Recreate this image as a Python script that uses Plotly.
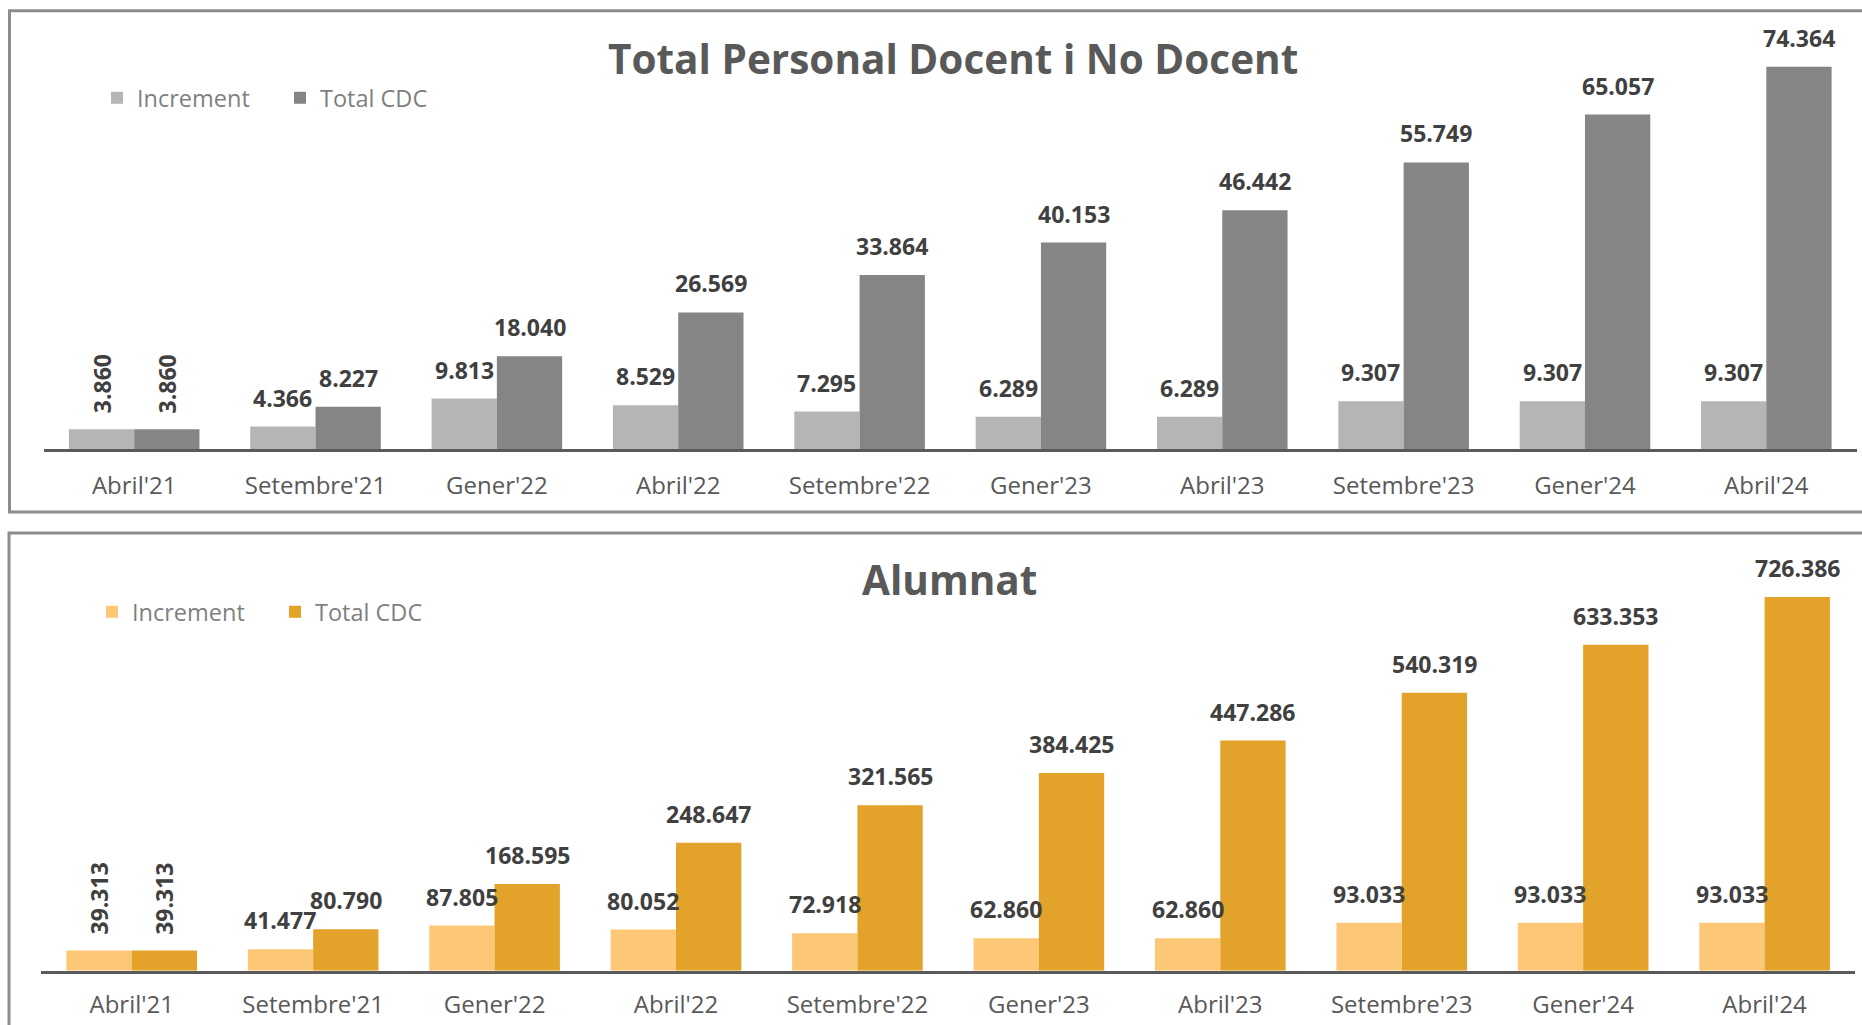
import plotly.graph_objects as go

# ---- data -------------------------------------------------------------
periodes = ["Abril'21", "Setembre'21", "Gener'22", "Abril'22", "Setembre'22",
            "Gener'23", "Abril'23", "Setembre'23", "Gener'24", "Abril'24"]

personal_increment = [3860, 4366, 9813, 8529, 7295, 6289, 6289, 9307, 9307, 9307]
personal_total = [3860, 8227, 18040, 26569, 33864, 40153, 46442, 55749, 65057, 74364]

alumnat_increment = [39313, 41477, 87805, 80052, 72918, 62860, 62860, 93033, 93033, 93033]
alumnat_total = [39313, 80790, 168595, 248647, 321565, 384425, 447286, 540319, 633353, 726386]

serie_noms = ["Increment", "Total CDC"]
titols = ["Total Personal Docent i No Docent", "Alumnat"]

# ---- page geometry (pixels) -------------------------------------------
W, H = 1862, 1025
FONT = "Open Sans"
BARGAP = 0.28


def px_x(x):
    return x / W


def px_y(y):
    return 1 - y / H


def catala(v):
    return f"{v:,}".replace(",", ".")


panels = [
    dict(inc=personal_increment, tot=personal_total, title=titols[0],
         colors=("#b5b5b5", "#858585"), xdom=(43.5, 1857), ybot=449, ytop=30,
         head=1.096, xa="x", ya="y", leg="legend", title_y=58.5, title_x=953),
    dict(inc=alumnat_increment, tot=alumnat_total, title=titols[1],
         colors=("#fcc777", "#e3a22a"), xdom=(41, 1855.3), ybot=970.7, ytop=560,
         head=1.099, xa="x2", ya="y2", leg="legend2", title_y=579.5, title_x=949),
]

fig = go.Figure()
annotations = []

for p in panels:
    for serie, vals, col in zip(serie_noms, (p["inc"], p["tot"]), p["colors"]):
        fig.add_trace(go.Bar(
            x=periodes, y=vals, name=serie,
            marker=dict(color=col, line=dict(width=0)),
            xaxis=p["xa"], yaxis=p["ya"], legend=p["leg"],
            hoverinfo="x+y",
        ))

    # value labels above each bar
    cat_px = (p["xdom"][1] - p["xdom"][0]) / len(periodes)
    bar_px = cat_px * (1 - BARGAP) / 2
    for j, vals in enumerate((p["inc"], p["tot"])):
        for i, v in enumerate(vals):
            vertical = i == 0
            annotations.append(dict(
                x=periodes[i], y=v, xref=p["xa"], yref=p["ya"],
                text=catala(v), showarrow=False,
                xanchor="center", yanchor="bottom",
                xshift=(j - 0.5) * bar_px,
                yshift=14 if vertical else 11,
                textangle=-90 if vertical else 0,
                font=dict(family=FONT, size=23, color="#404040", weight=700),
            ))

    # panel title
    annotations.append(dict(
        x=px_x(p["title_x"]), y=px_y(p["title_y"]), xref="paper", yref="paper",
        text=p["title"], showarrow=False, xanchor="center", yanchor="middle",
        font=dict(family=FONT, size=40.5, color="#595959", weight=700),
    ))

axis_common = dict(showgrid=False, zeroline=False, ticks="",
                   showline=True, linecolor="#5a5a5a", linewidth=3,
                   tickfont=dict(family=FONT, size=24, color="#595959"),
                   fixedrange=True)
yaxis_common = dict(showgrid=False, zeroline=False, showline=False,
                    showticklabels=False, ticks="", fixedrange=True)

legend_common = dict(orientation="h", xanchor="left", yanchor="middle",
                     bgcolor="rgba(0,0,0,0)", borderwidth=0,
                     font=dict(family=FONT, size=23.5, color="#7f7f7f"),
                     entrywidth=138, entrywidthmode="pixels",
                     traceorder="normal")

frame_line = dict(color="#8c8c8c", width=3)

fig.update_layout(
    width=W, height=H,
    margin=dict(l=0, r=0, t=0, b=0),
    paper_bgcolor="white", plot_bgcolor="white",
    barmode="group", bargap=BARGAP, bargroupgap=0,
    font=dict(family=FONT),
    showlegend=True,
    xaxis=dict(domain=[px_x(43.5), px_x(1857)], anchor="y",
               ticklabelstandoff=13, **axis_common),
    yaxis=dict(domain=[px_y(449), px_y(30)], anchor="x",
               range=[0, max(personal_total) * 1.096], **yaxis_common),
    xaxis2=dict(domain=[px_x(41), px_x(1855.3)], anchor="y2",
                ticklabelstandoff=10, **axis_common),
    yaxis2=dict(domain=[px_y(970.7), px_y(560)], anchor="x2",
                range=[0, max(alumnat_total) * 1.099], **yaxis_common),
    legend=dict(x=px_x(97), y=px_y(98), **legend_common),
    legend2=dict(x=px_x(92), y=px_y(612), **legend_common),
    annotations=annotations,
    shapes=[
        dict(type="rect", xref="paper", yref="paper", layer="below",
             x0=px_x(9.5), x1=1.02, y0=px_y(512), y1=px_y(10.7), line=frame_line),
        dict(type="rect", xref="paper", yref="paper", layer="below",
             x0=px_x(9), x1=1.02, y0=-0.02, y1=px_y(533), line=frame_line),
    ],
)

fig.write_html("out.html", config={"displayModeBar": False})
